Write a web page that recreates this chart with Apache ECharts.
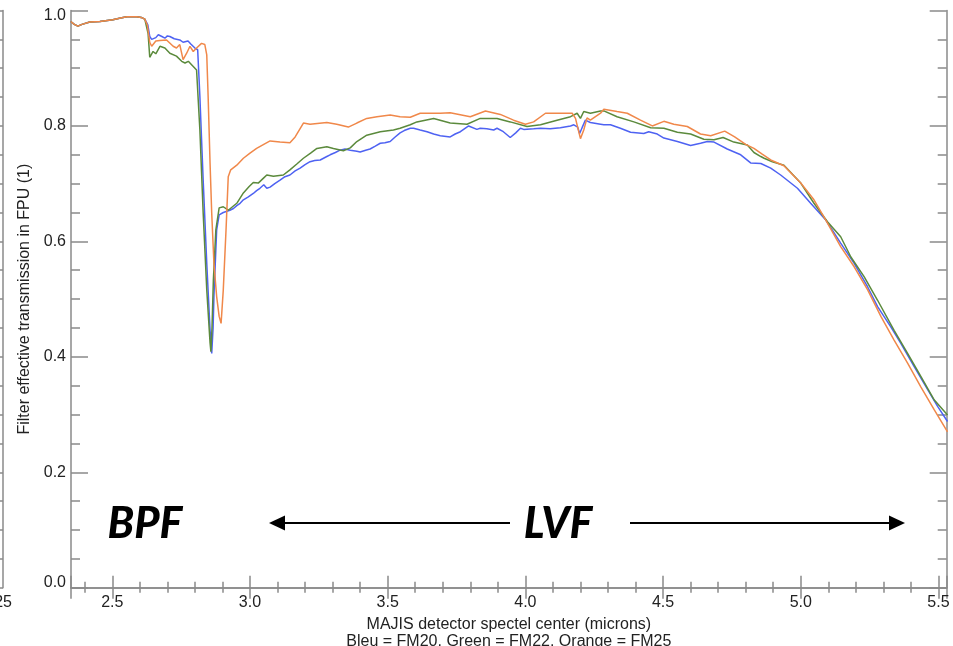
<!DOCTYPE html>
<html><head><meta charset="utf-8">
<script src="https://cdn.jsdelivr.net/npm/echarts@6/dist/echarts.min.js"></script>
<style>html,body{margin:0;padding:0;background:#fff}#c{width:953px;height:646px}</style>
</head><body><div id="c"></div>
<script>
// Shared BPF plateau (all three curves overlap here)
const commonStart = [[2.349,0.981],[2.362,0.976],[2.375,0.973],[2.39,0.976],[2.418,0.980],[2.455,0.981],[2.502,0.984],[2.53,0.987],[2.553,0.989],[2.589,0.989],[2.605,0.988],[2.618,0.985],[2.625,0.983]];

// Bleu = FM20
const blueFM20 = commonStart.concat([[2.629,0.975],[2.636,0.955],[2.643,0.950],[2.648,0.947],[2.658,0.953],[2.667,0.958],[2.680,0.955],[2.691,0.952],[2.700,0.956],[2.709,0.955],[2.725,0.951],[2.745,0.949],[2.757,0.945],[2.764,0.944],[2.775,0.947],[2.785,0.942],[2.800,0.935],[2.810,0.932],[2.818,0.851],[2.830,0.706],[2.843,0.562],[2.855,0.446],[2.861,0.406],[2.866,0.450],[2.869,0.504],[2.879,0.620],[2.888,0.646],[2.903,0.650],[2.927,0.654],[2.940,0.657],[2.952,0.662],[2.964,0.666],[2.976,0.672],[2.994,0.677],[3.012,0.683],[3.024,0.688],[3.036,0.692],[3.050,0.698],[3.061,0.692],[3.073,0.694],[3.090,0.700],[3.109,0.706],[3.127,0.712],[3.145,0.715],[3.164,0.722],[3.182,0.727],[3.200,0.733],[3.218,0.738],[3.235,0.740],[3.255,0.741],[3.279,0.747],[3.291,0.750],[3.310,0.754],[3.327,0.758],[3.345,0.760],[3.364,0.758],[3.388,0.756],[3.400,0.755],[3.420,0.758],[3.436,0.760],[3.455,0.765],[3.473,0.770],[3.490,0.771],[3.509,0.773],[3.525,0.780],[3.545,0.788],[3.560,0.792],[3.582,0.796],[3.594,0.796],[3.618,0.793],[3.643,0.790],[3.667,0.786],[3.691,0.783],[3.727,0.781],[3.745,0.786],[3.764,0.790],[3.794,0.800],[3.824,0.794],[3.836,0.796],[3.860,0.795],[3.885,0.793],[3.897,0.796],[3.920,0.790],[3.945,0.780],[3.965,0.788],[3.982,0.796],[3.994,0.794],[4.030,0.795],[4.055,0.796],[4.090,0.795],[4.127,0.797],[4.164,0.800],[4.176,0.802],[4.190,0.798],[4.197,0.787],[4.206,0.797],[4.218,0.810],[4.236,0.806],[4.273,0.803],[4.285,0.802],[4.309,0.802],[4.345,0.796],[4.382,0.789],[4.430,0.787],[4.448,0.790],[4.479,0.786],[4.503,0.779],[4.552,0.773],[4.600,0.766],[4.636,0.770],[4.661,0.773],[4.685,0.772],[4.733,0.760],[4.782,0.750],[4.818,0.736],[4.855,0.735],[4.891,0.727],[4.927,0.715],[4.988,0.692],[5.036,0.666],[5.091,0.637],[5.145,0.597],[5.194,0.562],[5.243,0.521],[5.279,0.487],[5.327,0.452],[5.364,0.423],[5.412,0.383],[5.461,0.343],[5.497,0.314],[5.533,0.288]]);

// Green = FM22
const greenFM22 = commonStart.concat([[2.630,0.960],[2.636,0.919],[2.648,0.929],[2.658,0.925],[2.673,0.938],[2.691,0.935],[2.709,0.926],[2.733,0.921],[2.752,0.912],[2.764,0.909],[2.776,0.912],[2.794,0.903],[2.806,0.897],[2.818,0.793],[2.830,0.649],[2.843,0.516],[2.855,0.424],[2.858,0.409],[2.862,0.450],[2.867,0.533],[2.876,0.620],[2.888,0.658],[2.903,0.660],[2.921,0.654],[2.952,0.666],[2.976,0.684],[2.997,0.695],[3.012,0.702],[3.030,0.701],[3.050,0.710],[3.061,0.715],[3.085,0.713],[3.121,0.715],[3.145,0.724],[3.170,0.734],[3.194,0.744],[3.220,0.753],[3.243,0.761],[3.279,0.764],[3.303,0.761],[3.339,0.757],[3.364,0.762],[3.388,0.773],[3.424,0.784],[3.473,0.790],[3.521,0.793],[3.545,0.796],[3.582,0.802],[3.606,0.807],[3.667,0.813],[3.727,0.805],[3.788,0.803],[3.836,0.813],[3.897,0.813],[3.945,0.807],[4.006,0.799],[4.055,0.802],[4.115,0.810],[4.164,0.816],[4.188,0.822],[4.200,0.813],[4.212,0.825],[4.236,0.822],[4.273,0.826],[4.285,0.826],[4.333,0.816],[4.394,0.807],[4.455,0.797],[4.503,0.796],[4.552,0.789],[4.600,0.786],[4.648,0.777],[4.685,0.776],[4.718,0.780],[4.757,0.772],[4.806,0.767],[4.830,0.754],[4.855,0.747],[4.867,0.744],[4.897,0.738],[4.939,0.732],[5.000,0.701],[5.048,0.666],[5.097,0.634],[5.145,0.608],[5.182,0.573],[5.230,0.539],[5.279,0.498],[5.339,0.446],[5.388,0.406],[5.436,0.366],[5.485,0.325],[5.533,0.299]]);

// Orange = FM25
const orangeFM25 = commonStart.concat([[2.627,0.975],[2.636,0.945],[2.643,0.938],[2.658,0.947],[2.673,0.948],[2.697,0.949],[2.721,0.938],[2.733,0.935],[2.745,0.941],[2.757,0.915],[2.770,0.926],[2.782,0.938],[2.794,0.929],[2.806,0.935],[2.824,0.943],[2.836,0.941],[2.843,0.923],[2.848,0.851],[2.855,0.735],[2.861,0.649],[2.869,0.562],[2.879,0.504],[2.888,0.470],[2.895,0.458],[2.903,0.516],[2.913,0.620],[2.921,0.712],[2.930,0.724],[2.952,0.732],[2.976,0.744],[3.000,0.753],[3.024,0.761],[3.050,0.768],[3.073,0.774],[3.109,0.772],[3.145,0.771],[3.164,0.781],[3.194,0.805],[3.218,0.803],[3.279,0.806],[3.315,0.803],[3.357,0.798],[3.388,0.805],[3.424,0.813],[3.461,0.816],[3.509,0.819],[3.545,0.816],[3.582,0.815],[3.618,0.822],[3.691,0.822],[3.727,0.823],[3.800,0.816],[3.855,0.826],[3.909,0.820],[3.957,0.810],[4.000,0.803],[4.030,0.807],[4.073,0.822],[4.127,0.822],[4.170,0.822],[4.182,0.813],[4.200,0.778],[4.212,0.793],[4.224,0.814],[4.236,0.810],[4.273,0.822],[4.285,0.829],[4.333,0.825],[4.370,0.822],[4.418,0.810],[4.461,0.800],[4.503,0.808],[4.539,0.803],[4.588,0.799],[4.636,0.786],[4.673,0.783],[4.724,0.791],[4.760,0.781],[4.800,0.768],[4.830,0.761],[4.860,0.751],[4.891,0.741],[4.939,0.731],[5.000,0.701],[5.048,0.672],[5.091,0.637],[5.145,0.591],[5.194,0.556],[5.243,0.516],[5.291,0.470],[5.339,0.429],[5.388,0.389],[5.436,0.348],[5.485,0.308],[5.533,0.270]]);

const seriesNames = ['FM20', 'FM22', 'FM25'];
const seriesColors = ['#4e62f2', '#5b8a3c', '#f0884a'];
const xTitle = 'MAJIS detector spectel center (microns)\nBleu = FM20. Green = FM22. Orange = FM25';
const yTitle = 'Filter effective transmission in FPU (1)';

const chart = echarts.init(document.getElementById('c'), null, {renderer: 'canvas'});
const axisColor = '#8a8a8a';
const font = 'Liberation Sans, Arial, Helvetica, sans-serif';
const lineStyle = {color: axisColor, width: 1.5};

function xAx(pos, showLabel, majLen, minLen, extra) {
  return Object.assign({
    type: 'value', gridIndex: 0, position: pos, min: 2.35, max: 5.53, splitNumber: 6,
    axisLine: {show: true, lineStyle: lineStyle},
    axisTick: {show: true, inside: true, length: majLen, lineStyle: lineStyle},
    minorTick: {show: true, splitNumber: 5, length: minLen, lineStyle: lineStyle},
    splitLine: {show: false}, minorSplitLine: {show: false},
    axisLabel: {show: showLabel, formatter: v => v.toFixed(1), showMinLabel: false, showMaxLabel: false,
      fontSize: 16, color: '#222', fontFamily: font, margin: 7}
  }, extra || {});
}
function yAx(pos, showLabel, extra) {
  return Object.assign({
    type: 'value', gridIndex: 0, position: pos, min: 0, max: 1, interval: 0.2,
    axisLine: {show: true, onZero: false, lineStyle: lineStyle},
    axisTick: {show: true, inside: true, length: 17, lineStyle: lineStyle},
    minorTick: {show: true, splitNumber: 4, length: 9, lineStyle: lineStyle},
    splitLine: {show: false}, minorSplitLine: {show: false},
    axisLabel: {show: showLabel, margin: 5, fontSize: 16, color: '#222', fontFamily: font,
      formatter: v => v >= 0.999 ? '{t|1.0}' : (v <= 0.001 ? '{b|0.0}' : v.toFixed(1)),
      rich: {
        t: {padding: [10, 0, 0, 0], fontSize: 16, color: '#222', fontFamily: font},
        b: {padding: [0, 0, 10, 0], fontSize: 16, color: '#222', fontFamily: font}
      }}
  }, extra || {});
}

const option = {
  animation: false,
  backgroundColor: '#fff',
  textStyle: {fontFamily: font},
  grid: {left: 71, right: 6.3, top: 10.5, bottom: 58.3, containLabel: false, outerBoundsMode: 'none'},
  xAxis: [
    xAx('bottom', true, 12, 6, {
      name: xTitle, nameLocation: 'middle', nameGap: 21,
      nameTextStyle: {fontSize: 16, color: '#222', lineHeight: 17, fontFamily: font}
    }),
    xAx('top', false, 11, 5)
  ],
  yAxis: [
    yAx('left', true, {
      name: yTitle, nameLocation: 'middle', nameGap: 38,
      nameTextStyle: {fontSize: 16, color: '#222', fontFamily: font}
    }),
    yAx('right', false),
    // edge of the neighbouring (cropped) panel on the far left
    yAx('left', false, {offset: 68, axisTick: {show: true, inside: false, length: 17, lineStyle: lineStyle},
      minorTick: {show: true, splitNumber: 4, length: 9, lineStyle: lineStyle}})
  ],
  series: [blueFM20, greenFM22, orangeFM25].map((d, i) => ({
    name: seriesNames[i], type: 'line', data: d, xAxisIndex: 0, yAxisIndex: 0,
    showSymbol: false, symbol: 'none', smooth: false, clip: true,
    lineStyle: {color: seriesColors[i], width: 1.5}, itemStyle: {color: seriesColors[i]}
  })),
  graphic: [
    {type: 'text', style: {text: 'BPF', x: 145, y: 524, align: 'center', verticalAlign: 'middle',
      fontFamily: 'Lato', fontStyle: 'italic', fontWeight: 900, fontSize: 43, fill: '#000'}},
    {type: 'text', style: {text: 'LVF', x: 558, y: 524, align: 'center', verticalAlign: 'middle',
      fontFamily: 'Lato', fontStyle: 'italic', fontWeight: 900, fontSize: 43, fill: '#000'}},
    {type: 'line', shape: {x1: 510, y1: 523, x2: 282, y2: 523}, style: {stroke: '#000', lineWidth: 2}},
    {type: 'polygon', shape: {points: [[269, 523], [285, 515.5], [285, 530.5]]}, style: {fill: '#000'}},
    {type: 'line', shape: {x1: 630, y1: 523, x2: 892, y2: 523}, style: {stroke: '#000', lineWidth: 2}},
    {type: 'polygon', shape: {points: [[905, 523], [889, 515.5], [889, 530.5]]}, style: {fill: '#000'}},
    {type: 'text', style: {text: '25', x: 12, y: 603, align: 'right', verticalAlign: 'middle',
      fontFamily: font, fontSize: 16, fill: '#222'}}
  ]
};
chart.setOption(option);
</script>
</body></html>
